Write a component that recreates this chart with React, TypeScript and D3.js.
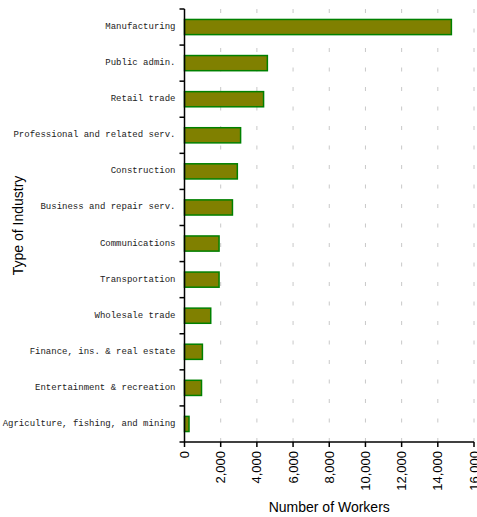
import { useEffect, useRef } from 'react';
import * as d3 from 'd3';

const industries = [
  'Manufacturing',
  'Public admin.',
  'Retail trade',
  'Professional and related serv.',
  'Construction',
  'Business and repair serv.',
  'Communications',
  'Transportation',
  'Wholesale trade',
  'Finance, ins. & real estate',
  'Entertainment & recreation',
  'Agriculture, fishing, and mining',
];
const workers = [14750, 4580, 4370, 3100, 2920, 2650, 1910, 1910, 1450, 990, 940, 250];
const xTicks = [0, 2000, 4000, 6000, 8000, 10000, 12000, 14000, 16000];

export default function App() {
  const svgRef = useRef<SVGSVGElement>(null);

  useEffect(() => {
    if (!svgRef.current) return;
    const svg = d3.select(svgRef.current);
    svg.selectAll('*').remove();

    const left = 184.5;
    const right = 474;
    const top = 9;
    const bottom = 442;

    const x = d3.scaleLinear().domain([0, 16000]).range([left, right]);
    const y = d3.scaleBand<string>()
      .domain(industries)
      .range([top, bottom])
      .paddingInner(0.58)
      .paddingOuter(0.29);

    // dashed grid
    svg.append('g')
      .selectAll('line')
      .data(xTicks.slice(1))
      .join('line')
      .attr('x1', d => x(d))
      .attr('x2', d => x(d))
      .attr('y1', top)
      .attr('y2', bottom)
      .attr('stroke', '#c8c8c8')
      .attr('stroke-width', 1)
      .attr('stroke-dasharray', '4,15.5');

    // bars
    svg.append('g')
      .selectAll('rect')
      .data(industries)
      .join('rect')
      .attr('x', left)
      .attr('y', d => y(d)!)
      .attr('width', (_, i) => x(workers[i]) - left)
      .attr('height', y.bandwidth())
      .attr('fill', '#808000')
      .attr('stroke', '#008000')
      .attr('stroke-width', 1.5);

    // y axis
    const step = y.step();
    const boundaries = d3.range(industries.length + 1).map(i => top + i * step);
    svg.append('line')
      .attr('x1', left).attr('x2', left)
      .attr('y1', top).attr('y2', bottom)
      .attr('stroke', '#000').attr('stroke-width', 1.5);
    svg.append('g')
      .selectAll('line')
      .data(boundaries)
      .join('line')
      .attr('x1', left - 5).attr('x2', left)
      .attr('y1', d => d).attr('y2', d => d)
      .attr('stroke', '#000').attr('stroke-width', 1.5);

    svg.append('g')
      .selectAll('text')
      .data(industries)
      .join('text')
      .attr('x', left - 9)
      .attr('y', d => y(d)! + y.bandwidth() / 2)
      .attr('text-anchor', 'end')
      .attr('dominant-baseline', 'central')
      .attr('font-family', '"Liberation Mono", monospace')
      .attr('font-size', '9px')
      .attr('fill', '#222')
      .text(d => d);

    // x axis
    svg.append('line')
      .attr('x1', left).attr('x2', right)
      .attr('y1', bottom).attr('y2', bottom)
      .attr('stroke', '#000').attr('stroke-width', 1.5);
    const xt = svg.append('g')
      .selectAll('g')
      .data(xTicks)
      .join('g');
    xt.append('line')
      .attr('x1', d => x(d)).attr('x2', d => x(d))
      .attr('y1', bottom).attr('y2', bottom + 5)
      .attr('stroke', '#000').attr('stroke-width', 1.5);
    xt.append('text')
      .attr('transform', d => `translate(${x(d)},${bottom + 9}) rotate(-90)`)
      .attr('text-anchor', 'end')
      .attr('dominant-baseline', 'central')
      .attr('font-family', '"Liberation Sans", Arial, sans-serif')
      .attr('font-size', '13px')
      .attr('fill', '#000')
      .text(d => d3.format(',')(d));

    // axis titles
    svg.append('text')
      .attr('x', (left + right) / 2)
      .attr('y', 512)
      .attr('text-anchor', 'middle')
      .attr('font-family', '"Liberation Sans", Arial, sans-serif')
      .attr('font-size', '14px')
      .text('Number of Workers');

    svg.append('text')
      .attr('transform', `translate(23,${(top + bottom) / 2}) rotate(-90)`)
      .attr('text-anchor', 'middle')
      .attr('font-family', '"Liberation Sans", Arial, sans-serif')
      .attr('font-size', '14px')
      .text('Type of Industry');
  }, []);

  return (
    <svg
      ref={svgRef}
      width={477}
      height={517}
      style={{ position: 'absolute', left: 0, top: 0, background: '#fff' }}
    />
  );
}
